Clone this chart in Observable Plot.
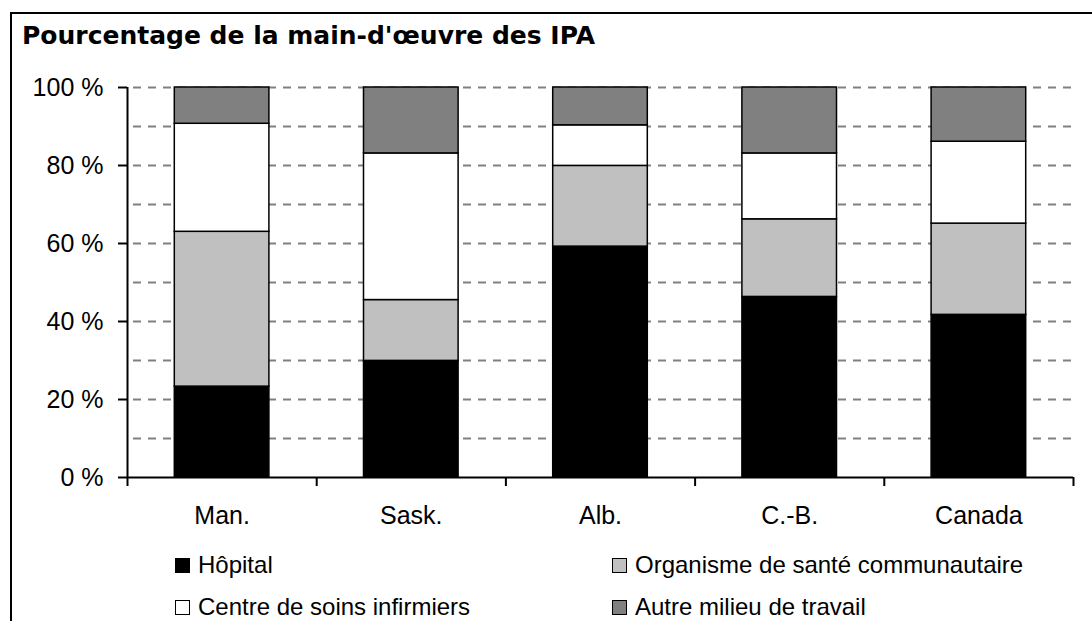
<!DOCTYPE html>
<html>
<head>
<meta charset="utf-8">
<script src="https://cdn.jsdelivr.net/npm/d3@7"></script>
<script src="https://cdn.jsdelivr.net/npm/@observablehq/plot@0.6"></script>
<style>
  html, body { margin: 0; padding: 0; }
  body { width: 1092px; height: 621px; overflow: hidden; background: #fff; position: relative; font-family: "Liberation Sans", Arial, sans-serif; color: #000; }
  #frame { position: absolute; left: 10px; top: 12px; width: 1100px; height: 620px; border-left: 2px solid #000; border-top: 2px solid #000; }
  #title { position: absolute; left: 22px; top: 21px; font-family: "DejaVu Sans", sans-serif; font-size: 25px; font-weight: bold; line-height: 30px; white-space: nowrap; }
  #chart { position: absolute; left: 0; top: 60px; }
  .leg { position: absolute; font-size: 24px; line-height: 24px; white-space: nowrap; }
  .sw { display: inline-block; width: 13px; height: 13px; border: 1px solid #000; margin-right: 8px; vertical-align: baseline; }
</style>
</head>
<body>
<div id="frame"></div>
<div id="title">Pourcentage de la main-d'œuvre des IPA</div>
<div id="chart"></div>
<div id="legend"></div>
<script>
// ---- Data ----
const categories = ["Man.", "Sask.", "Alb.", "C.-B.", "Canada"];
const series = ["Hôpital", "Organisme de santé communautaire", "Centre de soins infirmiers", "Autre milieu de travail"];
const hopital   = [23.3, 29.9, 59.2, 46.3, 41.7];
const organisme = [39.7, 15.6, 20.7, 19.9, 23.4];
const centre    = [27.7, 37.6, 10.4, 16.9, 21.0];
const autre     = [ 9.3, 16.9,  9.7, 16.9, 13.9];
const colors = ["#000000", "#c0c0c0", "#ffffff", "#808080"];
const yTicks = [0, 20, 40, 60, 80, 100];
const gridTicks = [10, 20, 30, 40, 50, 60, 70, 80, 90, 100];
const yTickLabels = ["0 %", "20 %", "40 %", "60 %", "80 %", "100 %"];

const seriesValues = [hopital, organisme, centre, autre];
const table = categories.flatMap((c, i) => series.map((s, j) => ({cat: c, series: s, value: seriesValues[j][i]})));

// ---- Chart ----
const W = 1092, H = 480, mL = 127, mR = 19, mT = 27, mB = 63;
const step = (W - mL - mR) / categories.length;

const chart = Plot.plot({
  width: W, height: H,
  marginLeft: mL, marginRight: mR, marginTop: mT, marginBottom: mB,
  style: {fontFamily: "Liberation Sans, Arial, sans-serif", fontSize: "25px", color: "#000", background: "transparent", overflow: "visible"},
  x: {domain: categories, paddingInner: 0.5, paddingOuter: 0.25, round: false, label: null},
  y: {domain: [0, 100], label: null},
  color: {domain: series, range: colors},
  marks: [
    Plot.ruleY(gridTicks, {y: d => d, stroke: "#808080", strokeWidth: 2, strokeDasharray: "8,7", strokeDashoffset: 9}),
    Plot.barY(table, {x: "cat", y: "value", fill: "series", stroke: "#000", strokeWidth: 1.5}),
    Plot.ruleY([0], {stroke: "#000", strokeWidth: 2}),
    // y-axis line + first boundary tick
    Plot.ruleX([categories[0]], {x: d => d, dx: -step / 2, y1: 100, y2: 0, insetBottom: -9, stroke: "#000", strokeWidth: 2}),
    // inner boundary ticks
    Plot.ruleX(categories.slice(1), {x: d => d, dx: -step / 2, y1: 0, y2: 0, insetBottom: -9, stroke: "#000", strokeWidth: 2}),
    // last boundary tick
    Plot.ruleX([categories[categories.length - 1]], {x: d => d, dx: step / 2, y1: 0, y2: 0, insetBottom: -9, stroke: "#000", strokeWidth: 2}),
    Plot.axisY(yTicks, {tickSize: 9, tickPadding: 15, strokeWidth: 2, fontSize: 25, fill: "#000", tickFormat: (d) => yTickLabels[yTicks.indexOf(d)]}),
    Plot.axisX({tickSize: 0, tickPadding: 29, fontSize: 25, fill: "#000"})
  ]
});
document.getElementById("chart").appendChild(chart);

// ---- Legend ----
const legPos = [
  {left: 175, top: 553},
  {left: 612, top: 553},
  {left: 175, top: 595},
  {left: 612, top: 595}
];
const legend = document.getElementById("legend");
series.forEach((s, j) => {
  const d = document.createElement("div");
  d.className = "leg";
  d.style.left = legPos[j].left + "px";
  d.style.top = legPos[j].top + "px";
  const sw = document.createElement("span");
  sw.className = "sw";
  sw.style.background = colors[j];
  d.appendChild(sw);
  d.appendChild(document.createTextNode(s));
  legend.appendChild(d);
});
</script>
</body>
</html>
